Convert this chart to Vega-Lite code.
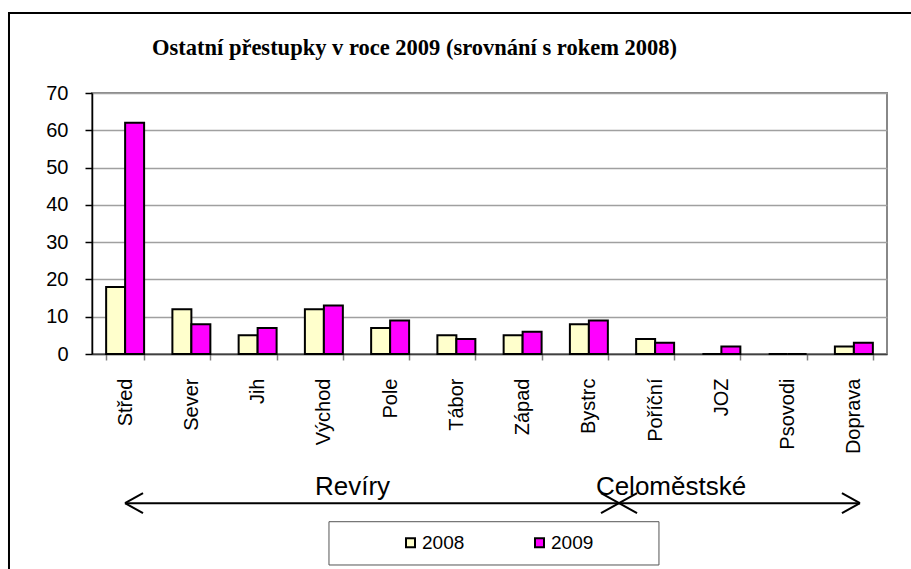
{
  "$schema": "https://vega.github.io/schema/vega-lite/v6.json",
  "width": 795,
  "height": 261,
  "autosize": {"type": "none"},
  "padding": {"left": 92, "top": 93, "right": 24, "bottom": 215},
  "background": "white",
  "title": {
    "text": "Ostatní přestupky v roce 2009 (srovnání s rokem 2008)",
    "font": "Liberation Serif",
    "fontSize": 22.5,
    "fontWeight": "bold",
    "color": "black",
    "anchor": "start",
    "frame": "group",
    "dx": 60,
    "offset": -65,
    "baseline": "alphabetic"
  },
  "config": {
    "view": {"stroke": "#888888", "strokeWidth": 2},
    "axis": {"labelFont": "Liberation Sans", "labelColor": "black", "titleFont": "Liberation Sans"}
  },
  "datasets": {
    "bars": [
      {"cat": "Střed", "year": "2008", "value": 18}, {"cat": "Střed", "year": "2009", "value": 62},
      {"cat": "Sever", "year": "2008", "value": 12}, {"cat": "Sever", "year": "2009", "value": 8},
      {"cat": "Jih", "year": "2008", "value": 5}, {"cat": "Jih", "year": "2009", "value": 7},
      {"cat": "Východ", "year": "2008", "value": 12}, {"cat": "Východ", "year": "2009", "value": 13},
      {"cat": "Pole", "year": "2008", "value": 7}, {"cat": "Pole", "year": "2009", "value": 9},
      {"cat": "Tábor", "year": "2008", "value": 5}, {"cat": "Tábor", "year": "2009", "value": 4},
      {"cat": "Západ", "year": "2008", "value": 5}, {"cat": "Západ", "year": "2009", "value": 6},
      {"cat": "Bystrc", "year": "2008", "value": 8}, {"cat": "Bystrc", "year": "2009", "value": 9},
      {"cat": "Poříční", "year": "2008", "value": 4}, {"cat": "Poříční", "year": "2009", "value": 3},
      {"cat": "JOZ", "year": "2008", "value": 0}, {"cat": "JOZ", "year": "2009", "value": 2},
      {"cat": "Psovodi", "year": "2008", "value": 0}, {"cat": "Psovodi", "year": "2009", "value": 0},
      {"cat": "Doprava", "year": "2008", "value": 2}, {"cat": "Doprava", "year": "2009", "value": 3}
    ],
    "frame": [{"x1": -1.253, "x2": 13.5, "y1": 91.45, "y2": -58.47}],
    "box": [{"x1": 3.577, "x2": 8.558, "y1": -44.98, "y2": -56.59}],
    "arrows": [
      {"x1": 0.498, "y1": -40, "x2": 7.955, "y2": -40},
      {"x1": 0.498, "y1": -40, "x2": 0.770, "y2": -37.32},
      {"x1": 0.498, "y1": -40, "x2": 0.770, "y2": -42.68},
      {"x1": 7.955, "y1": -40, "x2": 7.683, "y2": -37.32},
      {"x1": 7.955, "y1": -40, "x2": 7.683, "y2": -42.68},
      {"x1": 7.955, "y1": -40, "x2": 11.592, "y2": -40},
      {"x1": 7.955, "y1": -40, "x2": 8.227, "y2": -37.32},
      {"x1": 7.955, "y1": -40, "x2": 8.227, "y2": -42.68},
      {"x1": 11.592, "y1": -40, "x2": 11.320, "y2": -37.32},
      {"x1": 11.592, "y1": -40, "x2": 11.320, "y2": -42.68}
    ],
    "groups": [
      {"label": "Revíry", "x": 3.932, "y": -37.82},
      {"label": "Celoměstské", "x": 8.740, "y": -37.82}
    ]
  },
  "layer": [
    {
      "data": {"name": "frame"},
      "mark": {"type": "rect", "fill": "transparent", "stroke": "black", "strokeWidth": 2},
      "encoding": {
        "x": {"field": "x1", "type": "quantitative", "scale": {"domain": [0, 12], "nice": false, "zero": false}, "axis": null},
        "x2": {"field": "x2"},
        "y": {"field": "y1", "type": "quantitative", "scale": {"domain": [0, 70], "nice": false, "zero": false}, "axis": null},
        "y2": {"field": "y2"}
      }
    },
    {
      "data": {"name": "bars"},
      "mark": {"type": "bar", "stroke": "black", "strokeWidth": 2},
      "encoding": {
        "x": {
          "field": "cat", "type": "nominal", "sort": null,
          "scale": {"paddingInner": 0.427, "paddingOuter": 0.2135},
          "axis": {
            "title": null, "labelAngle": -90, "labelFontSize": 20, "labelPadding": 18,
            "tickBand": "extent", "tickSize": 6, "tickColor": "#808080", "tickWidth": 1.5,
            "domainColor": "#404040", "domainWidth": 1.5, "grid": false
          }
        },
        "xOffset": {"field": "year", "type": "nominal", "scale": {"paddingInner": 0, "paddingOuter": 0}},
        "y": {
          "field": "value", "type": "quantitative",
          "scale": {"domain": [0, 70], "nice": false},
          "axis": {
            "title": null, "values": [0, 10, 20, 30, 40, 50, 60, 70], "labelFontSize": 20, "labelPadding": 17,
            "tickSize": 7, "tickColor": "black", "tickWidth": 1.5, "domainColor": "black", "domainWidth": 1.5,
            "grid": true, "gridColor": "#a0a0a0", "gridWidth": 1.5
          }
        },
        "color": {
          "field": "year", "type": "nominal",
          "scale": {"domain": ["2008", "2009"], "range": ["#FFFFCC", "#FF00FF"]},
          "legend": {
            "orient": "none", "legendX": 309, "legendY": 440, "direction": "horizontal", "title": null,
            "symbolType": "square", "symbolSize": 81, "symbolStrokeColor": "black", "symbolStrokeWidth": 2,
            "labelFont": "Liberation Sans", "labelFontSize": 19, "labelColor": "black", "labelOffset": 2,
            "columnPadding": 65, "padding": 0
          }
        }
      }
    },
    {
      "data": {"name": "box"},
      "mark": {"type": "rect", "fill": "transparent", "stroke": "#555555", "strokeWidth": 1},
      "encoding": {
        "x": {"field": "x1", "type": "quantitative", "scale": {"domain": [0, 12], "nice": false, "zero": false}, "axis": null},
        "x2": {"field": "x2"},
        "y": {"field": "y1", "type": "quantitative", "scale": {"domain": [0, 70], "nice": false, "zero": false}, "axis": null},
        "y2": {"field": "y2"}
      }
    },
    {
      "data": {"name": "arrows"},
      "mark": {"type": "rule", "color": "black", "strokeWidth": 2},
      "encoding": {
        "x": {"field": "x1", "type": "quantitative", "scale": {"domain": [0, 12], "nice": false, "zero": false}, "axis": null},
        "x2": {"field": "x2"},
        "y": {"field": "y1", "type": "quantitative", "scale": {"domain": [0, 70], "nice": false, "zero": false}, "axis": null},
        "y2": {"field": "y2"}
      }
    },
    {
      "data": {"name": "groups"},
      "mark": {"type": "text", "font": "Liberation Sans", "fontSize": 26, "color": "black", "align": "center", "baseline": "alphabetic"},
      "encoding": {
        "x": {"field": "x", "type": "quantitative", "scale": {"domain": [0, 12], "nice": false, "zero": false}, "axis": null},
        "y": {"field": "y", "type": "quantitative", "scale": {"domain": [0, 70], "nice": false, "zero": false}, "axis": null},
        "text": {"field": "label"}
      }
    }
  ],
  "resolve": {"scale": {"x": "independent", "y": "independent"}}
}
